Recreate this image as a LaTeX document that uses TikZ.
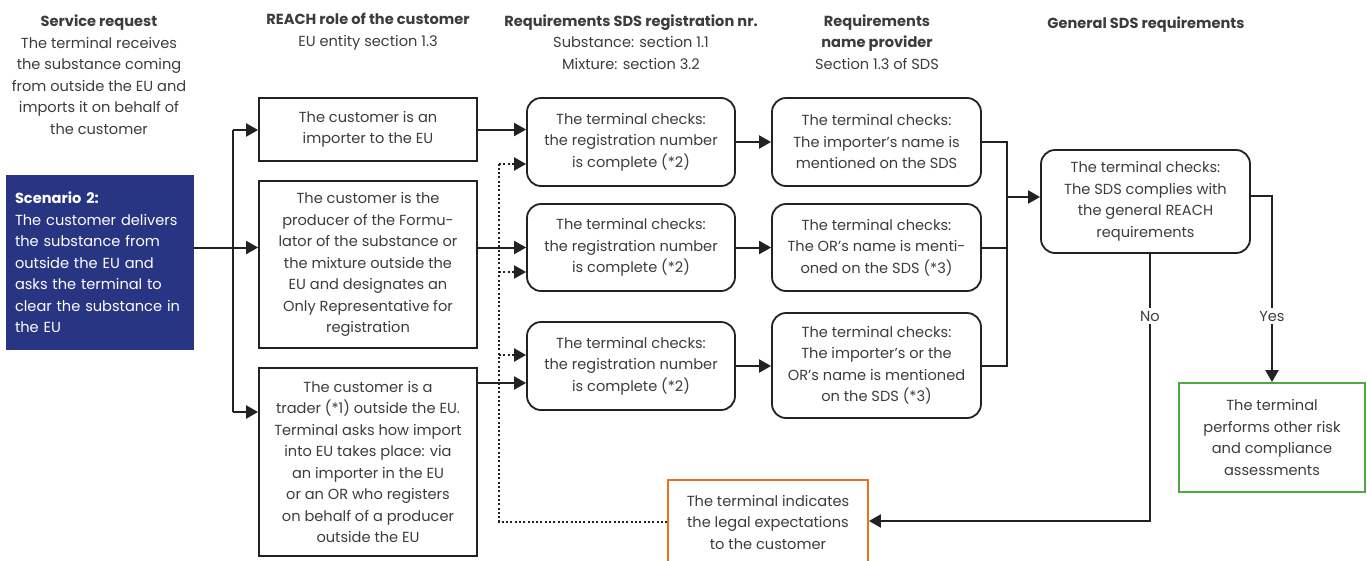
\documentclass[tikz,border=0pt]{standalone}
\usepackage{fontspec}
\setmainfont{Poppins}
\usetikzlibrary{arrows.meta}
\definecolor{txt}{HTML}{3C3C3C}
\definecolor{navy}{HTML}{283583}
\definecolor{grn}{HTML}{4DAA3F}
\definecolor{org}{HTML}{E8731E}
\definecolor{ln}{HTML}{222222}
\begin{document}
\begin{tikzpicture}[x=1pt,y=-1pt,
 every node/.style={font=\fontsize{14.6}{21.5}\selectfont, text=txt, inner sep=0pt},
 sharpbox/.style={draw=ln, line width=1.8pt, align=center},
 roundbox/.style={draw=ln, line width=1.8pt, rounded corners=14pt, align=center},
 hdr/.style={align=center},
 conn/.style={draw=ln, line width=2pt},
 arr/.style={conn, -{Triangle[length=12pt,width=13pt]}},
 dots/.style={draw=ln, line width=2.2pt, dash pattern=on 2pt off 2.3pt},
 darr/.style={dots, -{Triangle[length=12pt,width=13pt]}},
 lbl/.style={fill=white, inner sep=3pt}
]
\useasboundingbox (0,0) rectangle (1367,560);

% headers
\node[hdr] (h1) at (99,74.5) {\textbf{Service request}\\The terminal receives\\the substance coming\\from outside the EU and\\imports it on behalf of\\the customer};
\node[hdr] (h2) at (368,31.5) {\textbf{REACH role of the customer}\\EU entity section 1.3};
\node[hdr] (h3) at (631,42) {\textbf{Requirements SDS registration nr.}\\Substance: section 1.1\\Mixture: section 3.2};
\node[hdr] (h4) at (877,42) {\textbf{Requirements}\\\textbf{name provider}\\Section 1.3 of SDS};
\node[hdr] (h5) at (1146,25) {\textbf{General SDS requirements}};

% scenario
\node[fill=navy, text=white, text width=170pt, align=left, minimum height=175pt, inner xsep=9pt] (sc) at (100,262.5)
 {\textbf{Scenario 2:}\\The customer delivers\\the substance from\\outside the EU and\\asks the terminal to\\clear the substance in\\the EU};

% role boxes
\node[sharpbox, minimum width=218pt, minimum height=63pt] (A) at (368,129.5) {The customer is an\\importer to the EU};
\node[sharpbox, minimum width=218pt, minimum height=167pt] (B) at (368,264.5) {The customer is the\\producer of the Formu-\\lator of the substance or\\the mixture outside the\\EU and designates an\\Only Representative for\\registration};
\node[sharpbox, minimum width=218pt, minimum height=188pt] (C) at (368,462) {The customer is a\\trader (*1) outside the EU.\\Terminal asks how import\\into EU takes place: via\\an importer in the EU\\or an OR who registers\\on behalf of a producer\\outside the EU};

% registration checks
\node[roundbox, minimum width=208pt, minimum height=88pt] (R1) at (631,142) {The terminal checks:\\the registration number\\is complete (*2)};
\node[roundbox, minimum width=208pt, minimum height=87pt] (R2) at (631,247.5) {The terminal checks:\\the registration number\\is complete (*2)};
\node[roundbox, minimum width=208pt, minimum height=88pt] (R3) at (631,366) {The terminal checks:\\the registration number\\is complete (*2)};

% name checks
\node[roundbox, minimum width=209pt, minimum height=88pt] (S1) at (876.5,142) {The terminal checks:\\The importer’s name is\\mentioned on the SDS};
\node[roundbox, minimum width=209pt, minimum height=87pt] (S2) at (876.5,247.5) {The terminal checks:\\The OR’s name is menti-\\oned on the SDS (*3)};
\node[roundbox, minimum width=209pt, minimum height=105pt] (S3) at (876.5,365.5) {The terminal checks:\\The importer’s or the\\OR’s name is mentioned\\on the SDS (*3)};

% general
\node[roundbox, minimum width=209pt, minimum height=103pt] (G) at (1145.5,201.5) {The terminal checks:\\The SDS complies with\\the general REACH\\requirements};

% outcomes
\node[draw=grn, line width=1.8pt, align=center, minimum width=186pt, minimum height=109pt] (Gr) at (1272,437.5) {The terminal\\performs other risk\\and compliance\\assessments};
\node[draw=org, line width=1.8pt, align=center, minimum width=200pt, minimum height=84pt] (Or) at (768,522) {The terminal indicates\\the legal expectations\\to the customer};

% connectors from scenario
\coordinate (bt) at (233,130);
\coordinate (bb) at (233,412);
\draw[conn] (bt) -- (bb);
\draw[arr] (bt) -- (bt -| A.west);
\draw[arr] (bb) -- (bb -| C.west);
\draw[arr] (sc.east |- R2.west) -- (B.west |- R2.west);

% role -> registration
\draw[arr] (A.east) -- (A.east -| R1.west);
\draw[arr] (B.east |- R2.west) -- (R2.west);
\coordinate (c3) at (477,383);
\draw[arr] (c3 -| C.east) -- (c3 -| R3.west);

% dotted feedback
\coordinate (dtop) at (499,164);
\coordinate (d2) at (499,272);
\coordinate (d3) at (499,355);
\draw[dots] (Or.west) -| (dtop);
\draw[darr] (dtop) -- (dtop -| R1.west);
\draw[darr] (d2) -- (d2 -| R2.west);
\draw[darr] (d3) -- (d3 -| R3.west);

% registration -> name
\draw[arr] (R1.east) -- (S1.west);
\draw[arr] (R2.east) -- (S2.west);
\draw[arr] (R3.east) -- (R3.east -| S3.west);

% merge
\coordinate (mx) at (1007,197);
\draw[conn] (S1.east) -- (S1.east -| mx) -- (S3.east -| mx) -- (S3.east);
\draw[conn] (S2.east) -- (S2.east -| mx);
\draw[arr] (mx) -- (mx -| G.west);

% yes / no
\coordinate (yx) at (1272,196);
\draw[arr] (yx -| G.east) -- (yx) -- (Gr.north);
\node[lbl] (yes) at (1272,316) {Yes};
\coordinate (nx) at (1150,521);
\draw[arr] (G.south -| nx) -- (nx) -- (nx -| Or.east);
\node[lbl] (no) at (1150,316) {No};
\end{tikzpicture}
\end{document}
